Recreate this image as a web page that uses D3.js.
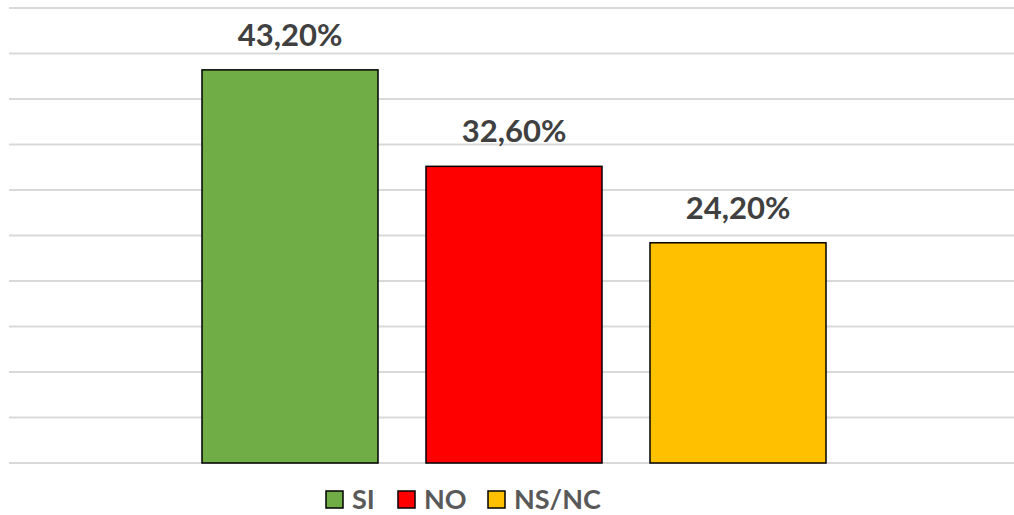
<!DOCTYPE html>
<html><head><meta charset="utf-8">
<script src="https://cdn.jsdelivr.net/npm/d3@7/dist/d3.min.js"></script>
<style>body{margin:0;background:#fff}svg{display:block}</style>
</head><body>
<script>
const categories = ["SI", "NO", "NS/NC"];
const values = [43.2, 32.6, 24.2];
const labels = ["43,20%", "32,60%", "24,20%"];
const colors = ["#70AD47", "#FF0000", "#FFC000"];
const yTicks = [0,5,10,15,20,25,30,35,40,45,50];

const W = 1014, H = 515;
const svg = d3.select("body").append("svg").attr("width", W).attr("height", H);

const x = d3.scaleBand().domain(categories).range([90, 938]).paddingInner(48/224).paddingOuter(0.5);
const y = d3.scaleLinear().domain([0, 50]).range([463, 8]);

svg.append("g").selectAll("line").data(yTicks).join("line")
  .attr("x1", 9).attr("x2", 1014)
  .attr("y1", d => y(d)).attr("y2", d => y(d))
  .attr("stroke", "#d9d9d9").attr("stroke-width", 2);

svg.append("g").selectAll("rect").data(categories).join("rect")
  .attr("x", d => x(d)).attr("width", x.bandwidth())
  .attr("y", (d,i) => y(values[i])).attr("height", (d,i) => y(0) - y(values[i]))
  .attr("fill", (d,i) => colors[i]).attr("stroke", "#000").attr("stroke-width", 1.5);

svg.append("g").selectAll("text").data(categories).join("text")
  .attr("x", d => x(d) + x.bandwidth()/2)
  .attr("y", (d,i) => y(values[i]) - 24)
  .attr("text-anchor", "middle")
  .attr("font-family", "Lato, 'Open Sans', sans-serif").attr("font-weight", "bold")
  .attr("font-size", 31).attr("fill", "#404040")
  .text((d,i) => labels[i]);

const legX = [326, 398, 488];
const lg = svg.append("g").selectAll("g").data(categories).join("g")
  .attr("transform", (d,i) => `translate(${legX[i]},491)`);
lg.append("rect").attr("width", 17).attr("height", 17)
  .attr("fill", (d,i) => colors[i]).attr("stroke", "#000").attr("stroke-width", 1.5);
lg.append("text").attr("x", 26).attr("y", 18)
  .attr("font-family", "Lato, 'Open Sans', sans-serif").attr("font-weight", "bold")
  .attr("font-size", 27).attr("fill", "#595959")
  .text(d => d);
</script>
</body></html>
